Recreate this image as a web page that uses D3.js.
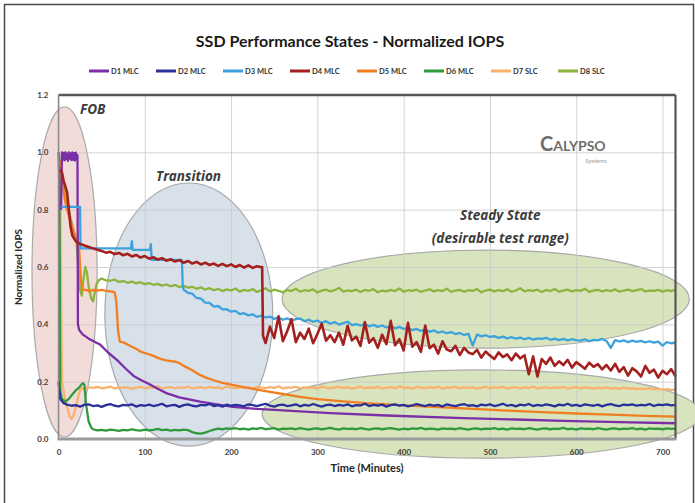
<!DOCTYPE html>
<html>
<head>
<meta charset="utf-8">
<script src="https://cdn.jsdelivr.net/npm/d3@7"></script>
<style>
body { margin: 0; background: #fff; }
svg text { font-family: Lato, "Open Sans", sans-serif; }
</style>
</head>
<body>
<script>
// set up variables
var margin = {top: 95, right: 19.5, bottom: 64, left: 58.5},
    canvasWidth = 695,
    canvasHeight = 503,
    plotWidth = canvasWidth - margin.left - margin.right,
    plotHeight = canvasHeight - margin.top - margin.bottom;

var seriesNames = ["D1 MLC", "D2 MLC", "D3 MLC", "D4 MLC", "D5 MLC", "D6 MLC", "D7 SLC", "D8 SLC"];
var seriesColors = ["#7b2fa6", "#2b2f9a", "#3ea2dc", "#a3201d", "#f07f22", "#2e9a3c", "#f8b26e", "#8db43e"];
var xTicks = [0, 100, 200, 300, 400, 500, 600, 700];
var yTicks = [0, 0.2, 0.4, 0.6, 0.8, 1.0, 1.2];
var tailStep = 5; // minutes between samples in the long runs

// D1 MLC
var d1Points = [[3,0.80],[4,1.0],[5,0.975],[6,0.998],[7,0.972],[8,1.0],[9,0.976],[10,0.995],[11,0.97],
    [12,1.0],[13,0.978],[14,0.996],[15,0.973],[16,1.0],[17,0.975],[18,0.997],[19,0.971],[20,0.999],
    [21,0.976],[22,0.99],[22.5,0.40],[24,0.38],[28,0.365],[35,0.35],[48,0.33],[58,0.30],[68,0.275],
    [78,0.245],[87,0.22],[96,0.205],[106,0.19],[115,0.175],[125,0.16],[140,0.145],[164,0.13],
    [185,0.12],[202,0.112],[230,0.105],[260,0.10],[315,0.09],[380,0.082],[469,0.073],[530,0.068],
    [585,0.063],[650,0.059],[715,0.055]];

// D2 MLC
var d2Head = [[0,0.20],[2,0.14],[6,0.125]];
var d2TailStart = 10;
var d2Tail = [0.120,0.116,0.118,0.113,0.119,0.121,0.115,0.117,0.112,0.118,
    0.122,0.116,0.114,0.119,0.117,0.121,0.113,0.118,0.116,0.120,
    0.115,0.118,0.123,0.114,0.117,0.119,0.112,0.118,0.121,0.116,
    0.114,0.119,0.117,0.122,0.115,0.118,0.113,0.120,0.116,0.119,
    0.117,0.114,0.121,0.118,0.115,0.119,0.123,0.116,0.113,0.118,
    0.120,0.115,0.117,0.121,0.114,0.119,0.116,0.122,0.117,0.113,
    0.118,0.120,0.115,0.119,0.116,0.121,0.114,0.118,0.117,0.123,
    0.115,0.119,0.116,0.120,0.113,0.118,0.121,0.116,0.119,0.114,
    0.117,0.122,0.118,0.115,0.120,0.116,0.119,0.113,0.121,0.117,
    0.115,0.119,0.122,0.116,0.118,0.114,0.120,0.117,0.121,0.115,
    0.118,0.123,0.116,0.119,0.114,0.120,0.117,0.122,0.115,0.119,
    0.116,0.121,0.118,0.114,0.120,0.117,0.123,0.116,0.119,0.115,
    0.121,0.118,0.116,0.120,0.114,0.119,0.122,0.117,0.115,0.120,
    0.118,0.121,0.116,0.119,0.117,0.122,0.115,0.120,0.118,0.121,
    0.117,0.119];

// D3 MLC
var d3Head = [[3,0.81],[25,0.81],[25.5,0.665],[84,0.665],[85,0.69],[86,0.66],[106,0.66],[107,0.68],
    [108,0.625],[143,0.625],[144,0.53]];
var d3TailStart = 145;
var d3Tail = [0.521,0.510,0.507,0.492,0.490,0.476,0.475,0.462,0.464,0.452,0.453,
    0.444,0.447,0.436,0.439,0.431,0.435,0.426,0.430,0.424,
    0.427,0.419,0.424,0.416,0.421,0.413,0.418,0.420,0.411,0.416,0.409,0.413,
    0.405,0.411,0.402,0.408,0.399,0.404,0.409,0.397,0.401,0.396,0.402,0.393,0.398,0.391,0.396,0.389,0.394,0.386,0.391,0.384,
    0.388,0.380,0.384,0.377,0.382,0.374,0.379,0.371,0.375,0.369,0.373,0.366,0.370,0.363,0.367,0.326,0.364,0.358,0.362,0.356,
    0.359,0.353,0.357,0.351,0.355,0.350,0.354,0.348,0.353,0.347,0.351,0.349,0.353,0.346,0.350,0.345,0.349,0.344,0.348,0.345,
    0.343,0.348,0.341,0.346,0.344,0.349,0.342,0.318,0.345,0.340,0.344,0.338,0.343,0.339,0.342,0.337,0.341,0.336,0.340,0.326,0.338,0.334,0.336];

// D4 MLC
var d4Head = [[2,0.94],[4,0.93],[6,0.90],[8,0.88],[10,0.86],[12,0.80],[14,0.74],[16,0.71],[18,0.70],
    [20,0.69],[25,0.68],[30,0.675],[35,0.67],[40,0.665],[45,0.66]];
var d4MidStart = 50;
var d4Mid = [0.656,0.650,0.653,0.645,0.649,0.641,0.646,0.637,0.642,0.633,
    0.638,0.629,0.634,0.626,0.631,0.622,0.627,0.619,0.624,0.615,
    0.621,0.612,0.618,0.609,0.615,0.607,0.612,0.604,0.611,0.603,
    0.609,0.600,0.607,0.598,0.606,0.597,0.603,0.599];
var d4TailStart = 240;
var d4Tail = [0.335,0.392,0.352,0.428,0.341,0.376,0.418,0.338,0.371,0.349,0.385,0.334,0.366,0.402,0.343,0.362,
    0.338,0.371,0.329,0.395,0.344,0.357,0.325,0.408,0.336,0.352,0.318,0.364,0.331,0.412,0.327,0.348,
    0.309,0.405,0.322,0.338,0.304,0.396,0.317,0.329,0.298,0.341,0.312,0.306,0.325,0.293,0.318,0.302,
    0.296,0.311,0.284,0.305,0.291,0.279,0.302,0.286,0.295,0.275,0.298,0.281,0.292,0.226,0.288,0.218,
    0.279,0.262,0.284,0.255,0.271,0.258,0.276,0.249,0.268,0.257,0.245,0.266,0.252,0.261,0.243,0.258,
    0.239,0.262,0.234,0.251,0.221,0.247,0.236,0.218,0.255,0.231,0.242,0.214,0.238,0.226,0.244,0.219];

// D5 MLC
var d5Points = [[2,0.97],[4,0.92],[6,0.86],[9,0.81],[12,0.78],[15,0.75],[18,0.72],[21,0.69],[24,0.66],
    [25,0.60],[26,0.55],[28,0.52],[32,0.52],[36,0.515],[40,0.52],[45,0.518],[50,0.52],[55,0.517],
    [60,0.515],[65,0.512],[67,0.48],[69,0.38],[71,0.34],[75,0.337],[80,0.33],[85,0.322],[90,0.315],
    [95,0.305],[100,0.30],[105,0.295],[110,0.29],[115,0.283],[120,0.278],[125,0.274],[130,0.272],
    [135,0.27],[140,0.265],[145,0.255],[150,0.248],[155,0.24],[160,0.23],[165,0.222],[170,0.215],
    [175,0.21],[180,0.205],[190,0.196],[200,0.19],[210,0.184],[220,0.178],[230,0.172],[240,0.167],
    [260,0.157],[280,0.147],[300,0.139],[330,0.131],[360,0.124],[400,0.117],[440,0.111],[480,0.105],
    [520,0.099],[560,0.094],[600,0.089],[640,0.085],[680,0.081],[715,0.078]];

// D6 MLC
var d6Head = [[0,1.0],[1,0.9],[2,0.17],[4,0.14],[8,0.13],[12,0.14],[16,0.155],[20,0.17],[24,0.18],
    [28,0.195],[30,0.19],[32,0.12],[35,0.06],[38,0.04]];
var d6TailStart = 40;
var d6Tail = [0.034,0.030,0.032,0.029,0.033,0.031,0.028,0.032,0.030,0.034,
    0.031,0.029,0.033,0.030,0.032,0.035,0.031,0.033,0.029,0.032,
    0.030,0.033,0.031,
    0.024,0.020,0.019,0.022,
    0.028,0.033,0.036,0.034,0.037,
    0.035,0.038,0.034,0.036,0.033,0.037,0.035,0.039,0.034,0.036,
    0.038,0.033,0.036,0.035,0.037,0.034,0.038,0.035,0.033,0.036,
    0.037,0.034,0.036,0.039,0.035,0.033,0.037,0.035,0.036,0.034,
    0.038,0.035,0.033,0.036,0.037,0.034,0.036,0.038,0.035,0.033,
    0.036,0.034,0.037,0.035,0.039,0.034,0.036,0.035,0.033,0.037,
    0.035,0.036,0.034,0.038,0.035,0.033,0.036,0.037,0.034,0.036,
    0.035,0.038,0.034,0.036,0.033,0.037,0.035,0.036,0.034,0.038,
    0.035,0.033,0.036,0.037,0.034,0.036,0.035,0.039,0.034,0.036,
    0.033,0.037,0.035,0.036,0.034,0.038,0.035,0.033,0.036,0.037,
    0.034,0.036,0.035,0.038,0.034,0.036,0.033,0.037,0.035,0.036,
    0.034,0.037,0.035,0.036];

// D7 SLC
var d7Head = [[2,0.96],[3,0.5],[4,0.20],[7,0.15],[10,0.11],[13,0.08],[15,0.07],[17,0.08],[20,0.11],
    [23,0.15],[26,0.18],[28,0.175]];
var d7TailStart = 30;
var d7Tail = [0.176,0.180,0.178,0.182,0.177,0.179,0.183,0.176,0.180,0.178,
    0.181,0.175,0.179,0.182,0.177,0.180,0.178,0.184,0.176,0.179,
    0.181,0.177,0.180,0.178,0.183,0.176,0.179,0.181,0.177,0.182,
    0.178,0.180,0.176,0.183,0.179,0.177,0.181,0.178,0.180,0.176,
    0.182,0.179,0.177,0.181,0.178,0.184,0.176,0.180,0.179,0.182,
    0.177,0.180,0.178,0.181,0.176,0.183,0.179,0.177,0.180,0.182,
    0.178,0.181,0.176,0.179,0.183,0.177,0.180,0.178,0.182,0.176,
    0.179,0.181,0.177,0.184,0.178,0.180,0.176,0.182,0.179,0.177,
    0.181,0.178,0.183,0.176,0.180,0.179,0.182,0.177,0.180,0.178,
    0.181,0.176,0.179,0.183,0.177,0.180,0.178,0.182,0.176,0.179,
    0.181,0.177,0.180,0.178,0.183,0.176,0.179,0.181,0.177,0.180,
    0.178,0.182,0.176,0.179,0.181,0.177,0.180,0.178,0.176,0.179,
    0.177,0.180,0.176,0.178,0.175,0.179,0.176,0.177,0.174,0.176,
    0.175,0.177,0.173,0.175,0.172,0.174,0.171,0.172];

// D8 SLC
var d8Head = [[0,1.0],[2,0.96],[6,0.88],[10,0.82],[14,0.77],[18,0.72],[21,0.68],[23,0.60],[25,0.52],
    [27,0.50],[29,0.56],[31,0.60],[33,0.58],[35,0.53],[38,0.49],[40,0.48],[42,0.51],[44,0.54],
    [47,0.555],[50,0.56],[55,0.553]];
var d8TailStart = 60;
var d8Tail = [0.552,0.556,0.548,0.551,0.545,0.549,0.543,0.547,0.540,0.544,
    0.538,0.541,0.535,0.539,0.533,0.537,0.530,0.534,0.528,0.531,
    0.524,0.529,0.521,0.526,0.519,0.524,0.516,0.522,0.518,0.525,
    0.514,0.520,0.517,0.523,0.513,0.519,0.526,0.515,0.521,0.517,
    0.512,0.520,0.516,0.524,0.514,0.519,0.517,0.522,0.511,0.518,
    0.521,0.515,0.519,0.527,0.514,0.518,0.516,0.521,0.513,0.520,
    0.517,0.523,0.512,0.518,0.515,0.520,0.516,0.525,0.514,0.519,
    0.517,0.521,0.513,0.518,0.522,0.515,0.519,0.516,0.524,0.513,
    0.518,0.520,0.514,0.519,0.517,0.523,0.512,0.518,0.521,0.515,
    0.519,0.516,0.522,0.514,0.518,0.526,0.515,0.519,0.517,0.521,
    0.513,0.520,0.516,0.523,0.514,0.518,0.521,0.515,0.519,0.517,
    0.524,0.513,0.518,0.520,0.515,0.519,0.516,0.522,0.514,0.518,
    0.521,0.516,0.519,0.523,0.515,0.518,0.517,0.520,0.514,0.519,
    0.516,0.521];

// regions marked on the chart, in minutes / normalized IOPS
var regionNames = ["FOB", "Transition", "Steady upper", "Steady lower"];
var regionCenters = [[7, 0.583], [151, 0.434], [495, 0.488], [490, 0.087]];
var regionRadii = [[37.7, 0.576], [97.3, 0.459], [236, 0.171], [254, 0.154]];
var regionFills = ["#f2dcda", "#d8e0ea", "#d7e4bd", "#d7e4bd"];

// turn a run of evenly spaced samples into [minute, value] pairs
function samples(start, vals) {
    return vals.map(function(v, i) { return [start + i * tailStep, v]; });
}

var seriesData = [
    d1Points,
    d2Head.concat(samples(d2TailStart, d2Tail)),
    d3Head.concat(samples(d3TailStart, d3Tail)),
    d4Head.concat(samples(d4MidStart, d4Mid), [[236, 0.60], [237, 0.36]], samples(d4TailStart, d4Tail)),
    d5Points,
    d6Head.concat(samples(d6TailStart, d6Tail)),
    d7Head.concat(samples(d7TailStart, d7Tail)),
    d8Head.concat(samples(d8TailStart, d8Tail))
];
var drawOrder = [6, 7, 5, 4, 0, 1, 2, 3];

// creates the SVG canvas
var figure = d3.select("body")
    .append("svg")
        .attr("width", canvasWidth)
        .attr("height", canvasHeight);

figure.append("rect")
    .attr("x", 4.5).attr("y", 4.5)
    .attr("width", 689).attr("height", 510)
    .attr("fill", "#fff")
    .attr("stroke", "#4a4a4a")
    .attr("stroke-width", 1.5);

var x = d3.scaleLinear()
    .range([margin.left, margin.left + plotWidth])
    .domain([0, 715]);
var y = d3.scaleLinear()
    .range([margin.top + plotHeight, margin.top])
    .domain([0, 1.2]);

// region ellipses
figure.append("g")
    .attr("class", "regions")
    .selectAll("ellipse")
    .data(regionNames)
    .enter()
    .append("ellipse")
    .attr("cx", function(d, i) { return x(regionCenters[i][0]); })
    .attr("cy", function(d, i) { return y(regionCenters[i][1]); })
    .attr("rx", function(d, i) { return x(regionRadii[i][0]) - x(0); })
    .attr("ry", function(d, i) { return y(0) - y(regionRadii[i][1]); })
    .attr("fill", function(d, i) { return regionFills[i]; })
    .attr("stroke", "#a9a9a9")
    .attr("stroke-width", 1.2);

// grid
var xGrid = figure.append("g")
    .attr("transform", "translate(0, " + (margin.top + plotHeight) + ")")
    .call(d3.axisBottom(x).tickValues(xTicks).tickSize(-plotHeight).tickFormat(""));
var yGrid = figure.append("g")
    .attr("transform", "translate(" + margin.left + ", 0)")
    .call(d3.axisLeft(y).tickValues(yTicks).tickSize(-plotWidth).tickFormat(""));
[xGrid, yGrid].forEach(function(g) {
    g.select(".domain").remove();
    g.selectAll("line").attr("stroke", "#c8c8c8").attr("stroke-opacity", 0.8);
});

// the lines
var line = d3.line()
    .x(function(d) { return x(d[0]); })
    .y(function(d) { return y(d[1]); });

figure.append("g")
    .attr("class", "lines")
    .selectAll("path")
    .data(drawOrder)
    .enter()
    .append("path")
    .attr("d", function(i) { return line(seriesData[i]); })
    .attr("fill", "none")
    .attr("stroke", function(i) { return seriesColors[i]; })
    .attr("stroke-width", function(i) { return i === 3 ? 2.6 : 2.3; })
    .attr("stroke-linejoin", "round");

// plot frame
figure.append("line")
    .attr("x1", x(0)).attr("x2", x(715)).attr("y1", y(1.2)).attr("y2", y(1.2))
    .attr("stroke", "#575757").attr("stroke-width", 2.5);
figure.append("line")
    .attr("x1", x(715)).attr("x2", x(715)).attr("y1", y(1.2)).attr("y2", y(0))
    .attr("stroke", "#575757").attr("stroke-width", 2.2);
figure.append("line")
    .attr("x1", x(0)).attr("x2", x(0)).attr("y1", y(1.2)).attr("y2", y(0))
    .attr("stroke", "#8a8a8a").attr("stroke-width", 1.5);
figure.append("line")
    .attr("x1", x(0) - 1).attr("x2", x(715) + 1).attr("y1", y(0)).attr("y2", y(0))
    .attr("stroke", "#9a9a9a").attr("stroke-width", 3);

// add the axes
var xAxis = figure.append("g")
    .attr("transform", "translate(0, " + (margin.top + plotHeight) + ")")
    .call(d3.axisBottom(x).tickValues(xTicks).tickSize(0).tickPadding(10));
var yAxis = figure.append("g")
    .attr("transform", "translate(" + margin.left + ", 0)")
    .call(d3.axisLeft(y).tickValues(yTicks).tickSize(0).tickPadding(10).tickFormat(d3.format(".1f")));
[xAxis, yAxis].forEach(function(g) {
    g.select(".domain").remove();
    g.selectAll("text")
        .attr("fill", "#404040")
        .style("font-family", "Lato, sans-serif")
        .style("font-size", "8px")
        .style("font-weight", "bold");
});

// titles
figure.append("text")
    .attr("x", 350).attr("y", 47)
    .attr("text-anchor", "middle")
    .attr("fill", "#1a1a1a")
    .style("font-size", "16px").style("font-weight", "bold")
    .text("SSD Performance States - Normalized IOPS");

figure.append("text")
    .attr("x", 367).attr("y", 472)
    .attr("text-anchor", "middle")
    .attr("fill", "#262626")
    .style("font-size", "11px").style("font-weight", "bold")
    .text("Time (Minutes)");

figure.append("text")
    .attr("transform", "translate(22, 267) rotate(-90)")
    .attr("text-anchor", "middle")
    .attr("fill", "#262626")
    .style("font-size", "10px").style("font-weight", "bold")
    .text("Normalized IOPS");

// legend
var legend = figure.append("g")
    .attr("class", "legend")
    .selectAll("g")
    .data(seriesNames)
    .enter()
    .append("g")
    .attr("transform", function(d, i) { return "translate(" + (89 + i * 67) + ", 71)"; });
legend.append("line")
    .attr("x1", 0).attr("x2", 20)
    .attr("stroke", function(d, i) { return seriesColors[i]; })
    .attr("stroke-width", 3);
legend.append("text")
    .attr("x", 22).attr("y", 3)
    .attr("fill", "#333")
    .style("font-size", "7.5px").style("font-weight", "bold")
    .text(function(d) { return d; });

// region labels
function note(t, v, label, anchor) {
    figure.append("text")
        .attr("x", x(t)).attr("y", y(v))
        .attr("text-anchor", anchor)
        .attr("fill", "#3c3c3c")
        .style("font-family", "'Open Sans', sans-serif")
        .style("font-size", "13.5px").style("font-weight", "bold").style("font-style", "italic")
        .text(label);
}
note(25, 1.135, "FOB", "start");
note(113, 0.9, "Transition", "start");
note(512, 0.765, "Steady State", "middle");
note(512, 0.685, "(desirable test range)", "middle");

// logo
var logo = figure.append("text")
    .attr("x", 540).attr("y", 151)
    .attr("fill", "#6e6e6e")
    .style("font-weight", "bold");
logo.append("tspan").style("font-size", "20px").text("C");
logo.append("tspan").style("font-size", "14px").text("ALYPSO");
figure.append("text")
    .attr("x", 596).attr("y", 163)
    .attr("text-anchor", "middle")
    .attr("fill", "#9a9a9a")
    .style("font-size", "6px")
    .text("Systems");
</script>
</body>
</html>
